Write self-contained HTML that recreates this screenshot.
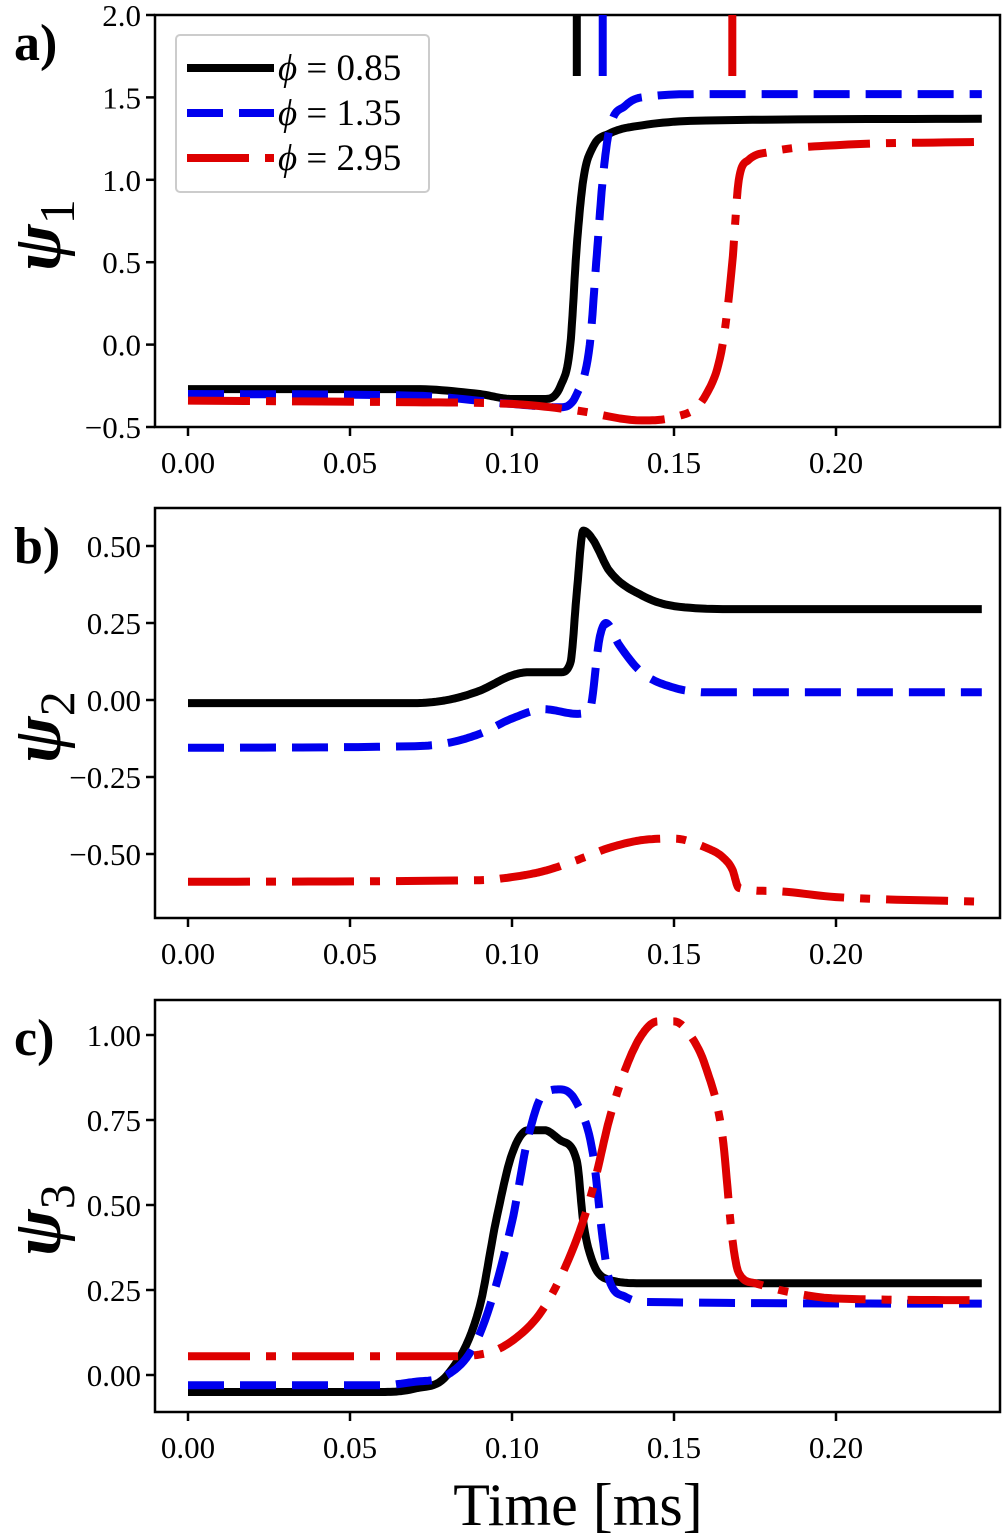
<!DOCTYPE html>
<html><head><meta charset="utf-8"><style>
body{margin:0;background:#fff}
svg{display:block;font-family:"Liberation Serif",serif}
</style></head><body>
<svg id="fig" width="1005" height="1540" viewBox="0 0 1005 1540" xmlns="http://www.w3.org/2000/svg"></svg>
<script>
const xTicks=[0,0.05,0.10,0.15,0.20];
const xTickLabels=["0.00","0.05","0.10","0.15","0.20"];
// panel a
const aBlackT=[0,0.07,0.09,0.10,0.11,0.115,0.118,0.120,0.122,0.125,0.13,0.14,0.16,0.245];
const aBlackV=[-0.27,-0.27,-0.30,-0.33,-0.33,-0.25,0.0,0.6,1.0,1.2,1.28,1.33,1.36,1.37];
const aBlueT=[0,0.07,0.10,0.115,0.12,0.124,0.126,0.128,0.13,0.135,0.14,0.16,0.245];
const aBlueV=[-0.30,-0.31,-0.36,-0.38,-0.30,0.0,0.5,1.0,1.3,1.45,1.5,1.52,1.52];
const aRedT=[0,0.07,0.10,0.12,0.14,0.15,0.16,0.165,0.168,0.170,0.173,0.18,0.20,0.245];
const aRedV=[-0.34,-0.35,-0.36,-0.40,-0.46,-0.44,-0.3,0.0,0.5,1.0,1.12,1.17,1.21,1.23];
const aMarkT=[0.120,0.128,0.168];
const aTicks=[-0.5,0,0.5,1.0,1.5,2.0];
const aTickLabels=["\u22120.5","0.0","0.5","1.0","1.5","2.0"];
// panel b
const bBlackT=[0,0.07,0.08,0.09,0.10,0.105,0.115,0.118,0.120,0.122,0.125,0.13,0.14,0.15,0.17,0.245];
const bBlackV=[-0.01,-0.01,0.0,0.03,0.08,0.09,0.09,0.12,0.35,0.55,0.52,0.42,0.34,0.305,0.295,0.295];
const bBlueT=[0,0.07,0.08,0.09,0.10,0.11,0.12,0.124,0.127,0.129,0.133,0.14,0.15,0.16,0.245];
const bBlueV=[-0.155,-0.15,-0.14,-0.11,-0.06,-0.03,-0.045,-0.03,0.2,0.25,0.18,0.09,0.04,0.025,0.025];
const bRedT=[0,0.09,0.10,0.11,0.12,0.13,0.14,0.15,0.16,0.165,0.168,0.170,0.18,0.20,0.245];
const bRedV=[-0.59,-0.585,-0.575,-0.555,-0.52,-0.48,-0.455,-0.45,-0.48,-0.51,-0.55,-0.61,-0.62,-0.64,-0.655];
const bTicks=[-0.5,-0.25,0,0.25,0.5];
const bTickLabels=["\u22120.50","\u22120.25","0.00","0.25","0.50"];
// panel c
const cBlackT=[0,0.06,0.07,0.08,0.09,0.095,0.10,0.105,0.11,0.115,0.12,0.122,0.125,0.13,0.14,0.245];
const cBlackV=[-0.05,-0.05,-0.04,0.0,0.2,0.45,0.65,0.72,0.72,0.69,0.63,0.45,0.33,0.28,0.27,0.27];
const cBlueT=[0,0.06,0.07,0.08,0.09,0.10,0.105,0.11,0.115,0.12,0.125,0.128,0.13,0.135,0.14,0.245];
const cBlueV=[-0.03,-0.03,-0.02,0.0,0.12,0.45,0.7,0.83,0.84,0.8,0.65,0.4,0.28,0.23,0.215,0.21];
const cRedT=[0,0.08,0.09,0.10,0.11,0.12,0.125,0.13,0.135,0.14,0.145,0.15,0.155,0.16,0.165,0.168,0.17,0.175,0.185,0.2,0.245];
const cRedV=[0.055,0.055,0.06,0.1,0.2,0.4,0.55,0.75,0.9,1.0,1.04,1.04,1.0,0.9,0.7,0.4,0.3,0.27,0.245,0.225,0.22];
const cTicks=[0,0.25,0.5,0.75,1.0];
const cTickLabels=["0.00","0.25","0.50","0.75","1.00"];

const NS="http://www.w3.org/2000/svg";
const svg=document.getElementById('fig');
function mk(tag,attrs,parent){const e=document.createElementNS(NS,tag);for(const k in attrs)e.setAttribute(k,attrs[k]);(parent||svg).appendChild(e);return e;}
const L=155,R=1000;
const xS=t=>188+t*(836-188)/0.20;
const styles={black:{c:"#000",d:""},blue:{c:"#0000ee",d:"36 16"},red:{c:"#dd0000",d:"62 16 10 16"}};

// monotone cubic (Fritsch-Carlson) resampling for smooth curves
function smooth(xs,ys){
  const n=xs.length,d=[],m=new Array(n);
  for(let i=0;i<n-1;i++)d.push((ys[i+1]-ys[i])/(xs[i+1]-xs[i]));
  m[0]=d[0];m[n-1]=d[n-2];
  for(let i=1;i<n-1;i++){m[i]=(d[i-1]*d[i]<=0)?0:(d[i-1]+d[i])/2;}
  for(let i=0;i<n-1;i++){
    if(d[i]===0){m[i]=0;m[i+1]=0;continue;}
    const a=m[i]/d[i],b=m[i+1]/d[i],s=a*a+b*b;
    if(s>9){const t=3/Math.sqrt(s);m[i]=t*a*d[i];m[i+1]=t*b*d[i];}
  }
  const out=[];
  for(let i=0;i<n-1;i++){
    const h=xs[i+1]-xs[i];
    for(let k=0;k<12;k++){
      const t=k/12,t2=t*t,t3=t2*t;
      const y=(2*t3-3*t2+1)*ys[i]+(t3-2*t2+t)*h*m[i]+(-2*t3+3*t2)*ys[i+1]+(t3-t2)*h*m[i+1];
      out.push([xs[i]+t*h,y]);
    }
  }
  out.push([xs[n-1],ys[n-1]]);
  return out;
}

function panel(name,top,bot,yv0,yp0,yv1,yp1,ticks,labels,series,sub,plabel){
  const yS=v=>yp0+(v-yv0)*(yp1-yp0)/(yv1-yv0);
  const g=mk('g',{});
  
  
  const clip=mk('clipPath',{id:'clip-'+name},g);
  mk('rect',{x:L,y:top,width:R-L,height:bot-top},clip);
  const lines=mk('g',{'clip-path':'url(#clip-'+name+')'},g);
  series.forEach(s=>{
    const st=styles[s.k];
    const pts=smooth(s.t,s.v);
    const p=mk('polyline',{points:pts.map(q=>xS(q[0]).toFixed(1)+','+yS(q[1]).toFixed(1)).join(' '),fill:'none',stroke:st.c,'stroke-width':8,'stroke-dasharray':st.d,'stroke-linejoin':'round'},lines);
    
    
  });
  const fr=mk('rect',{x:L,y:top,width:R-L,height:bot-top,fill:'none',stroke:'#000','stroke-width':2.5},g);
  
  
  xTicks.forEach((t,i)=>{
    mk('line',{x1:xS(t),x2:xS(t),y1:bot,y2:bot+9,stroke:'#000','stroke-width':2.5},g);
    const tx=mk('text',{x:xS(t),y:bot+46,'font-size':31,'text-anchor':'middle'},g);
    tx.textContent=xTickLabels[i];
    
    
  });
  ticks.forEach((v,i)=>{
    mk('line',{x1:L-9,x2:L,y1:yS(v),y2:yS(v),stroke:'#000','stroke-width':2.5},g);
    const tx=mk('text',{x:L-14,y:yS(v)+11,'font-size':31,'text-anchor':'end'},g);
    tx.textContent=labels[i];
    
    
  });
  const yl=mk('text',{x:0,y:0,'font-size':70,'font-style':'italic','font-weight':'bold',transform:'translate(60,'+((top+bot)/2+50)+') rotate(-90)'},g);
  yl.innerHTML='ψ<tspan font-size="50" font-style="normal" font-weight="normal" dy="14">'+sub+'</tspan>';
  
  
  const pl=mk('text',{x:14,y:top+(name==='panel-a'?45:55),'font-size':52,'font-weight':'bold'},g);
  pl.textContent=plabel;
  
  
  return {g,yS};
}

const pa=panel('panel-a',15,427,-0.5,427,2.0,15,aTicks,aTickLabels,
  [{k:'black',t:aBlackT,v:aBlackV},{k:'blue',t:aBlueT,v:aBlueV},{k:'red',t:aRedT,v:aRedV}],'1','a)');
['black','blue','red'].forEach((k,i)=>{
  const m=mk('line',{x1:xS(aMarkT[i]),x2:xS(aMarkT[i]),y1:15,y2:76,stroke:styles[k].c,'stroke-width':8},pa.g);
  
  
});
const lg=mk('g',{},pa.g);


mk('rect',{x:176,y:35,width:253,height:157,rx:4,fill:'#fff',stroke:'#ccc','stroke-width':2},lg);
const legLabels=["0.85","1.35","2.95"];
['black','blue','red'].forEach((k,i)=>{
  const y=68+i*45;
  mk('line',{x1:187,x2:274,y1:y,y2:y,stroke:styles[k].c,'stroke-width':8,'stroke-dasharray':styles[k].d},lg);
  const t=mk('text',{x:278,y:y+12,'font-size':37},lg);
  t.innerHTML='<tspan font-style="italic">ϕ</tspan> = '+legLabels[i];
  
  
});

panel('panel-b',508,918,0,700,0.5,546,bTicks,bTickLabels,
  [{k:'black',t:bBlackT,v:bBlackV},{k:'blue',t:bBlueT,v:bBlueV},{k:'red',t:bRedT,v:bRedV}],'2','b)');
panel('panel-c',1000,1412,0,1375,1.0,1035,cTicks,cTickLabels,
  [{k:'black',t:cBlackT,v:cBlackV},{k:'blue',t:cBlueT,v:cBlueV},{k:'red',t:cRedT,v:cRedV}],'3','c)');

const xt=mk('text',{x:578,y:1525,'font-size':60,'text-anchor':'middle'});
xt.textContent='Time [ms]';


</script>
</body></html>
